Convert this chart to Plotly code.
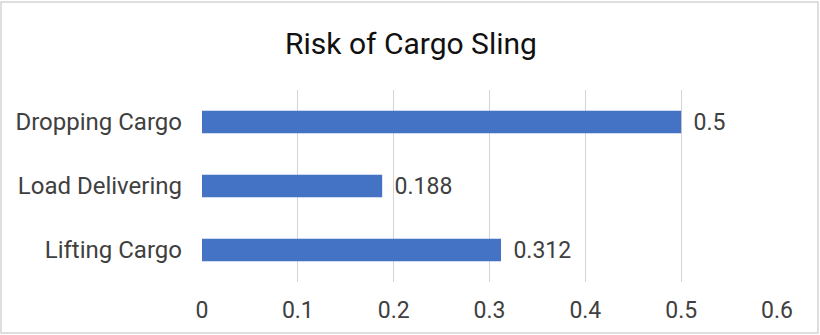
import plotly.graph_objects as go

categories = ["Lifting Cargo", "Load Delivering", "Dropping Cargo"]
values = [0.312, 0.188, 0.5]
x_ticks = [0, 0.1, 0.2, 0.3, 0.4, 0.5, 0.6]
x_tick_labels = ["0", "0.1", "0.2", "0.3", "0.4", "0.5", "0.6"]
title_text = "Risk of Cargo Sling"

FONT = "Roboto"
TXT = "#404040"
GRID = "#d4d4d4"

fig = go.Figure(
    go.Bar(
        y=categories,
        x=values,
        orientation="h",
        marker=dict(color="#4472C4", line=dict(width=0)),
        text=[f"\u2009\u2009{v:g}" for v in values],
        textposition="outside",
        constraintext="none",
        textfont=dict(family=FONT, size=23, color=TXT),
        cliponaxis=False,
        width=0.35,
    )
)

fig.update_layout(
    width=820,
    height=335,
    margin=dict(l=202, r=43, t=90, b=53),
    paper_bgcolor="white",
    plot_bgcolor="white",
    showlegend=False,
    title=dict(
        text=title_text,
        x=411 / 820,
        xref="container",
        xanchor="center",
        y=1 - 43 / 335,
        yref="container",
        yanchor="middle",
        font=dict(family=FONT, size=30, color="#111111"),
    ),
    xaxis=dict(
        range=[0, 0.6],
        tickvals=x_ticks,
        ticktext=x_tick_labels,
        showgrid=True,
        gridcolor=GRID,
        gridwidth=1,
        zeroline=False,
        showline=False,
        ticks="",
        tickfont=dict(family=FONT, size=23, color=TXT),
        ticklabelstandoff=12,
        fixedrange=True,
    ),
    yaxis=dict(
        showgrid=False,
        zeroline=False,
        showline=False,
        ticks="",
        tickfont=dict(family=FONT, size=24, color=TXT),
        ticklabelstandoff=19,
        fixedrange=True,
    ),
    shapes=[
        dict(
            type="rect",
            xref="paper",
            yref="paper",
            x0=-201 / 575,
            x1=1 + 41 / 575,
            y0=-51 / 192,
            y1=1 + 88 / 192,
            line=dict(color=GRID, width=1.5),
            fillcolor="rgba(0,0,0,0)",
            layer="below",
        )
    ],
)

fig.write_html("out.html")
